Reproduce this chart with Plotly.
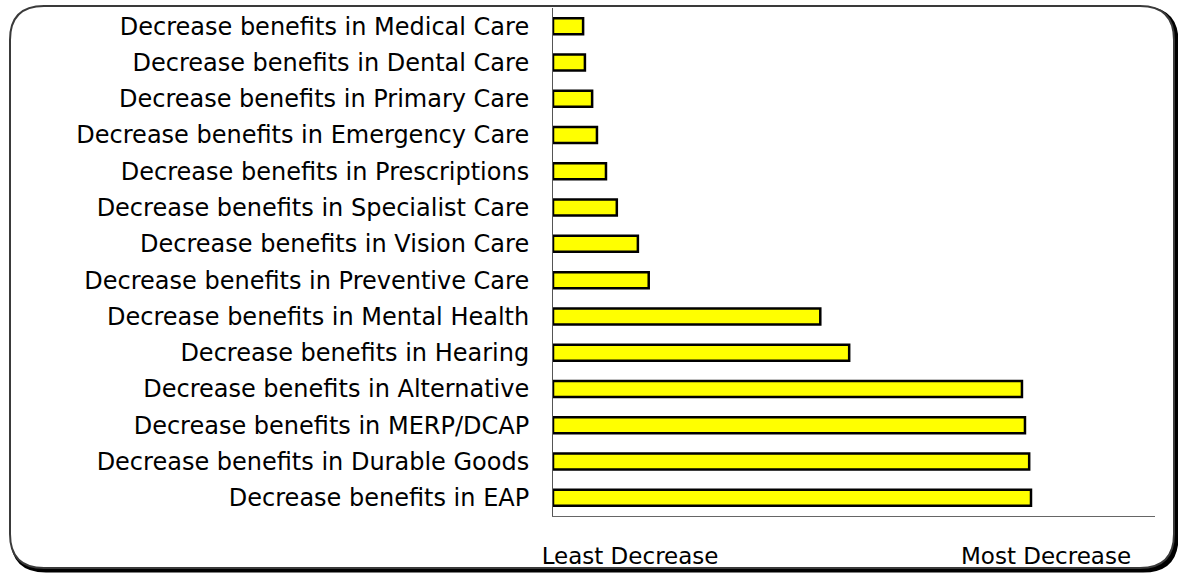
import plotly.graph_objects as go

categories = [
    "Decrease benefits in Medical Care",
    "Decrease benefits in Dental Care",
    "Decrease benefits in Primary Care",
    "Decrease benefits in Emergency Care",
    "Decrease benefits in Prescriptions",
    "Decrease benefits in Specialist Care",
    "Decrease benefits in Vision Care",
    "Decrease benefits in Preventive Care",
    "Decrease benefits in Mental Health",
    "Decrease benefits in Hearing",
    "Decrease benefits in Alternative",
    "Decrease benefits in MERP/DCAP",
    "Decrease benefits in Durable Goods",
    "Decrease benefits in EAP",
]
values = [5.0, 5.3, 6.5, 7.3, 8.8, 10.6, 14.1, 15.9, 44.4, 49.2, 77.9, 78.4, 79.1, 79.4]
tick_vals = [12.8, 81.9]
tick_text = ["Least Decrease", "Most Decrease"]

W, H = 1178, 573
L, R, T, B = 553, 1155, 8, 516

fig = go.Figure(go.Bar(
    x=values, y=categories, orientation="h",
    marker=dict(color="#FFFF00", line=dict(color="black", width=2.5)),
    width=0.44,
))

def px_x(p):
    return (p - L) / (R - L)

def px_y(p):
    return (B - p) / (B - T)

def rounded(x0, y0, x1, y1, r):
    a, b, c, d = px_x(x0), px_y(y0), px_x(x1), px_y(y1)
    rx, ry = r / (R - L), r / (B - T)
    return (f"M {a+rx},{b} L {c-rx},{b} Q {c},{b} {c},{b-ry} "
            f"L {c},{d+ry} Q {c},{d} {c-rx},{d} L {a+rx},{d} "
            f"Q {a},{d} {a},{d+ry} L {a},{b-ry} Q {a},{b} {a+rx},{b} Z")

shapes = [
    dict(type="path", xref="paper", yref="paper", layer="below",
         path=rounded(12, 8, 1177, 571, 34), line=dict(color="black", width=3),
         fillcolor="black"),
    dict(type="path", xref="paper", yref="paper", layer="below",
         path=rounded(10, 6, 1174, 568, 34), line=dict(color="#3a3a3a", width=2),
         fillcolor="white"),
]

fig.update_layout(
    width=W, height=H,
    margin=dict(l=L, r=W - R, t=T, b=H - B),
    paper_bgcolor="white", plot_bgcolor="rgba(0,0,0,0)",
    showlegend=False, bargap=0.5,
    shapes=shapes,
    font=dict(family="DejaVu Sans", size=24, color="black"),
    xaxis=dict(range=[0, 100], tickvals=tick_vals, ticktext=tick_text,
               showgrid=False, zeroline=False, showline=True, linecolor="#666",
               linewidth=1, ticks="", ticklabelstandoff=19, automargin=False,
               tickfont=dict(size=23)),
    yaxis=dict(autorange="reversed", showgrid=False, zeroline=False,
               showline=True, linecolor="#555", linewidth=1, ticks="",
               ticklabelstandoff=18, automargin=False),
)

fig.write_html("out.html", config={"displayModeBar": False},
               post_script="document.body.style.margin='0';")
